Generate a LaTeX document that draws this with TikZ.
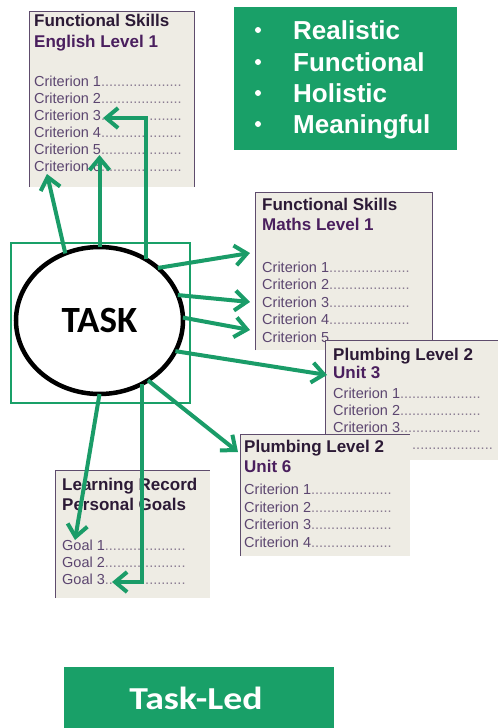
\documentclass[tikz,border=0pt]{standalone}
\usepackage{fontspec}
\setmainfont{Liberation Sans}
\newfontfamily\carlito{Carlito}
\usetikzlibrary{arrows.meta,shapes.geometric}
\definecolor{cardfill}{HTML}{EEECE4}
\definecolor{cardline}{HTML}{5E4C6C}
\definecolor{titledark}{HTML}{2C1A36}
\definecolor{titlepurple}{HTML}{4A1F5E}
\definecolor{critcol}{HTML}{5C4670}
\definecolor{dotcol}{HTML}{8A7C92}
\definecolor{grn}{HTML}{19A068}
\definecolor{arr}{HTML}{1A9C68}
\newcommand\dts{{\color{dotcol}....................}}
\begin{document}
\begin{tikzpicture}[x=1pt,y=-1pt,
  cardbox/.style={fill=cardfill, anchor=north west, inner sep=0, outer sep=0},
  cardedge/.style={draw=cardline, line width=1pt},
  ttl/.style={anchor=base west, inner sep=0, font=\fontsize{17}{17}\selectfont\bfseries, text=titledark},
  ttlb/.style={ttl, text=titlepurple},
  crt/.style={anchor=base west, inner sep=0, font=\fontsize{14.5}{14.5}\selectfont, text=critcol},
  conn/.style={draw=arr, line width=4pt, -{Straight Barb[length=12pt,width=20pt]}},
  gtext/.style={anchor=base west, inner sep=0, text=white, font=\fontsize{26}{26}\selectfont\bfseries},
  gbul/.style={inner sep=0, fill=white, circle, minimum size=6pt}
]
\useasboundingbox (0,0) rectangle (498,728);

% English card
\node[cardbox, minimum width=165pt, minimum height=176pt] (eng) at (29,11) {};
\draw[cardedge] (eng.south west) -- (eng.north west) -- (eng.north east) -- (eng.south east);
\node[ttl] (engt1) at (34,27) {Functional Skills};
\node[ttlb] (engt2) at (34,47) {English Level 1};
\foreach \i/\y in {1/86,2/103,3/120,4/137,5/154,6/171}
  \node[crt] (engc\i) at (34,\y) {Criterion \i\dts};

% Maths card
\node[cardbox, minimum width=177pt, minimum height=158pt] (mat) at (255,192) {};
\draw[cardedge] (mat.south west) -- (mat.north west) -- (mat.north east) -- (mat.south east);
\node[ttl] (matt1) at (262,210) {Functional Skills};
\node[ttlb] (matt2) at (262,230) {Maths Level 1};
\foreach \i/\y in {1/272,2/289.5,3/307,4/324.5,5/342}
  \node[crt] (matc\i) at (262,\y) {Criterion \i\dts};

% Plumbing unit 3
\node[cardbox, minimum width=173pt, minimum height=120pt] (pu3) at (325,340) {};
\draw[cardedge] (pu3.south west) -- (pu3.north west) -- (pu3.north east);
\node[ttl] (pu3t1) at (333,360) {Plumbing Level 2};
\node[ttlb] (pu3t2) at (333,378) {Unit 3};
\foreach \i/\y in {1/398,2/415,3/432}
  \node[crt] (pu3c\i) at (333,\y) {Criterion \i\dts};
\node[crt] (pu3c4) at (412,449) {\dts};

% Plumbing unit 6
\node[cardbox, minimum width=170pt, minimum height=122pt] (pu6) at (240,434) {};
\draw[cardedge] (pu6.south west) -- (pu6.north west) -- (pu6.north east);
\node[ttl] (pu6t1) at (244,452) {Plumbing Level 2};
\node[ttlb] (pu6t2) at (244,472) {Unit 6};
\foreach \i/\y in {1/494,2/512,3/529,4/547}
  \node[crt] (pu6c\i) at (244,\y) {Criterion \i\dts};

% Learning record
\node[cardbox, minimum width=155pt, minimum height=128pt] (lrn) at (55,470) {};
\draw[cardedge] (lrn.south west) -- (lrn.north west) -- (lrn.north east);
\node[ttl] (lrnt1) at (62,490) {Learning Record};
\node[ttl] (lrnt2) at (62,510) {Personal Goals};
\foreach \i/\y in {1/550,2/567,3/584}
  \node[crt] (lrng\i) at (62,\y) {Goal \i\dts};

% Task
\node[draw=grn, line width=1.5pt, minimum width=179pt, minimum height=160pt, anchor=north west, inner sep=0] (frame) at (10,242) {};
\node[ellipse, draw=black, line width=4.5pt, fill=white, minimum width=167pt, minimum height=147pt, inner sep=0, outer sep=0,
  font=\carlito\bfseries\fontsize{37}{37}\selectfont] (task) at (99.5,320.5) {TASK};

% Arrow ends
\coordinate (a1) at (47,174);
\coordinate (a2) at (99.5,155);
\coordinate (a3) at (103,118);
\coordinate (a4) at (250,253);
\coordinate (a5) at (250,302);
\coordinate (a6) at (250,330);
\coordinate (a7) at (327,375);
\coordinate (a8) at (238,452);
\coordinate (a9) at (75,540);
\coordinate (a10) at (112,582);
\draw[conn] (task.117) -- (a1);
\draw[conn] (task.90) -- (a2);
\draw[conn] (task.53.5) |- (a3);
\draw[conn] (task.42) -- (a4);
\draw[conn] (task.18) -- (a5);
\draw[conn] (task.2) -- (a6);
\draw[conn] (task.-22) -- (a7);
\draw[conn] (task.-51) -- (a8);
\draw[conn] (task.-90) -- (a9);
\draw[conn] (task.-56) |- (a10);

% Qualities box
\node[fill=grn, minimum width=223pt, minimum height=143pt, anchor=north west, inner sep=0] (qual) at (234,7) {};
\foreach \w/\y [count=\k] in {Realistic/39,Functional/71,Holistic/102,Meaningful/133}{
  \node[gbul] (qb\k) at (258,\y-9) {};
  \node[gtext] (qw\k) at (293,\y) {\w};
}

% Task-Led
\node[fill=grn, minimum width=270pt, minimum height=61pt, anchor=north west, inner sep=0] (ledbox) at (64,667) {};
\node[text=white, inner sep=0, font=\carlito\bfseries\fontsize{32}{32}\selectfont] (led) at (196,698) {\scalebox{1.18}[1]{Task-Led}};
\end{tikzpicture}
\end{document}
